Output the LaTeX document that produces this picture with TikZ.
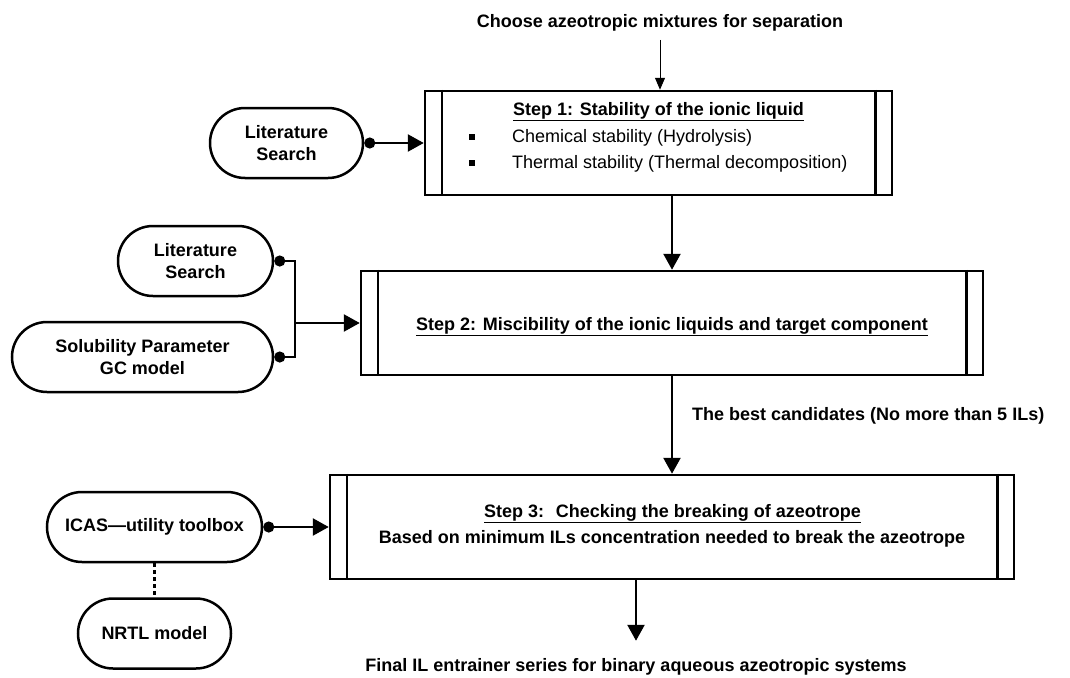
\documentclass[tikz,border=0pt]{standalone}
\usepackage{fontspec}
\setmainfont{Liberation Sans}
\usetikzlibrary{arrows.meta}
\newcommand{\flowfont}{\fontsize{18}{22}\selectfont}
\tikzset{
  stepbox/.style={draw,line width=2.5pt,inner sep=0pt,minimum height=104pt},
  toolnode/.style={draw,line width=2.5pt,rounded corners=35pt,minimum height=70pt,align=center,font=\flowfont\bfseries},
  plaintext/.style={inner sep=0pt,font=\flowfont},
  boldtext/.style={inner sep=0pt,font=\flowfont\bfseries},
  feed/.style={line width=2.5pt,-{Triangle[length=16pt,width=17pt]}},
  link/.style={line width=2.5pt,{Circle[length=11pt]}-{Triangle[length=16pt,width=17pt]}},
  dotlink/.style={line width=2.5pt,{Circle[length=11pt]}-},
}
\begin{document}
\begin{tikzpicture}[x=1pt,y=-1pt]
\useasboundingbox (0,0) rectangle (1070,677);
% step boxes
\node [stepbox,minimum width=467pt,name=s1] at (658.5,143){};
\node [stepbox,minimum width=622pt,name=s2] at (672,323){};
\node [stepbox,minimum width=684pt,name=s3] at (672,527){};
\foreach \s in {s1,s2,s3}{
  \draw[line width=2.5pt] ([xshift=18pt]\s.north west)--([xshift=18pt]\s.south west);
  \draw[line width=2.5pt] ([xshift=-18pt]\s.north east)--([xshift=-18pt]\s.south east);
}
% texts
\node [boldtext,anchor=base,name=choose] at (660,28){Choose azeotropic mixtures for separation};
\node [boldtext,anchor=base,name=t1] at (658.5,115){\underline{Step 1: Stability of the ionic liquid}};
\node [plaintext,anchor=base west,name=b1] at (469,142){\rule[2pt]{6pt}{6pt}\hspace{37pt}Chemical stability (Hydrolysis)};
\node [plaintext,anchor=base west,name=b2] at (469,168){\rule[2pt]{6pt}{6pt}\hspace{37pt}Thermal stability (Thermal decomposition)};
\node [boldtext,anchor=base,name=t2] at (672,330){\underline{Step 2: Miscibility of the ionic liquids and target component}};
\node [boldtext,anchor=base,name=t3] at (672.5,517){\underline{Step 3:~ Checking the breaking of azeotrope}};
\node [boldtext,anchor=base,name=t3b] at (672,543){Based on minimum ILs concentration needed to break the azeotrope};
\node [boldtext,anchor=base west,name=best] at (692,420){The best candidates (No more than 5 ILs)};
\node [boldtext,anchor=base,name=final] at (636,671){Final IL entrainer series for binary aqueous azeotropic systems};
% tools
\node [toolnode,minimum width=153pt,name=lit1] at (286.5,143){Literature\\Search};
\node [toolnode,minimum width=155pt,name=lit2] at (195.5,261){Literature\\Search};
\node [toolnode,minimum width=261pt,name=sol] at (142.5,357){Solubility Parameter\\GC model};
\node [toolnode,minimum width=215pt,name=icas] at (154.5,527){ICAS—utility toolbox};
\node [toolnode,minimum width=153pt,name=nrtl] at (154.5,633.5){NRTL model};
\coordinate (j2) at (295,323);
% connectors
\draw[line width=1pt,-{Triangle[length=12pt,width=10pt]},shorten <=8pt] (choose.south)--(choose.south |- s1.north);
\draw[link] (lit1.east)--(s1.west);
\draw[feed] (s2.north |- s1.south)--(s2.north);
\draw[dotlink] (lit2.east) -| (j2);
\draw[dotlink] (sol.east) -| (j2);
\draw[feed] (j2)--(s2.west);
\draw[feed] (s2.south)--(s3.north);
\draw[link] (icas.east)--(s3.west);
\draw[line width=2.5pt,dash pattern=on 4pt off 3pt] (icas.south)--(nrtl.north);
\draw[feed,shorten >=17pt] (s3.south -| final.north)--(final.north);
\end{tikzpicture}
\end{document}
